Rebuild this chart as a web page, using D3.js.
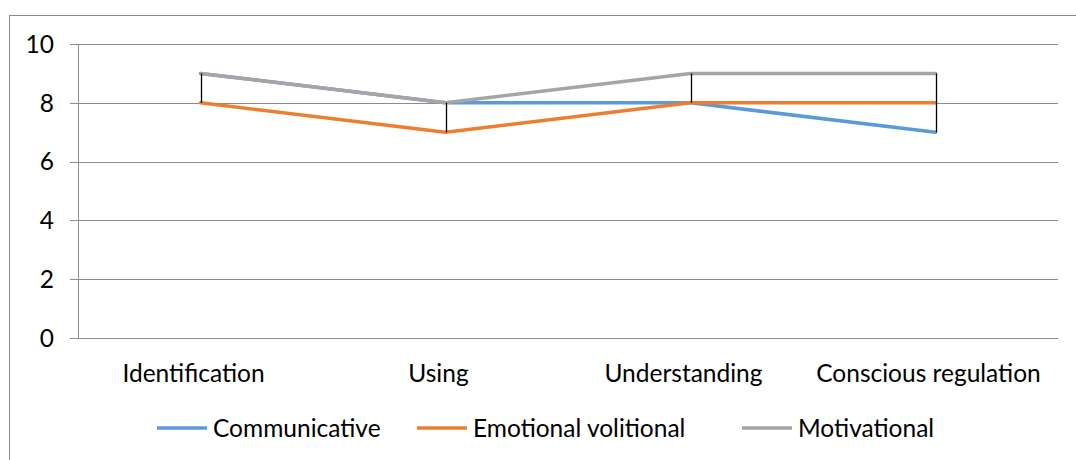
<!DOCTYPE html>
<html><head><meta charset="utf-8">
<script src="https://cdn.jsdelivr.net/npm/d3@7"></script>
<style>
html,body{margin:0;padding:0;background:#fff;}
svg{display:block;}
text{font-family:Lato,"Open Sans",sans-serif;fill:#000;}
</style></head>
<body><svg id="c" width="1076" height="460"></svg>
<script>
const categories = ["Identification","Using","Understanding","Conscious regulation"];
const communicative = [9, 8, 8, 7];
const emotionalVolitional = [8, 7, 8, 8];
const motivational = [9, 8, 9, 9];
const yTicks = [0, 2, 4, 6, 8, 10];
const seriesNames = ["Communicative","Emotional volitional","Motivational"];
const seriesColors = ["#5B9BD5","#ED7D31","#A5A5A5"];

(function(){
const series = [communicative, emotionalVolitional, motivational];
const svg = d3.select("#c");
const fs = 24.5;

// outer chart border (partially visible)
svg.append("rect").attr("x",9.5).attr("y",15.5).attr("width",1200).attr("height",600)
  .attr("fill","none").attr("stroke","#8c8c8c").attr("stroke-width",1);

const pL = 78, pR = 1058, pT = 44, pB = 338;
const x = d3.scaleBand().domain(categories).range([pL,pR]);
const y = d3.scaleLinear().domain([0,10]).range([pB,pT]);
const cx = c => x(c) + x.bandwidth()/2;

// gridlines
svg.append("g").selectAll("line").data(yTicks).join("line")
  .attr("x1",pL-8).attr("x2",pR)
  .attr("y1",d=>Math.round(y(d))+0.5).attr("y2",d=>Math.round(y(d))+0.5)
  .attr("stroke","#8c8c8c").attr("stroke-width",1);
// y axis line
svg.append("line").attr("x1",pL+0.5).attr("x2",pL+0.5)
  .attr("y1",Math.round(y(10))+0.5).attr("y2",Math.round(y(0))+0.5)
  .attr("stroke","#8c8c8c");

// y tick labels
svg.append("g").selectAll("text").data(yTicks).join("text")
  .attr("x",54).attr("y",d=>y(d)).attr("dy","0.36em")
  .attr("text-anchor","end").attr("font-size",fs).text(d=>d);

// x labels
svg.append("g").selectAll("text").data(categories).join("text")
  .attr("x",d=>cx(d)-7).attr("y",382)
  .attr("text-anchor","middle").attr("font-size",fs).text(d=>d);

// series lines
const line = d3.line().x((d,i)=>cx(categories[i])).y(d=>y(d));
series.forEach((s,k)=>{
  svg.append("path").datum(s).attr("d",line)
    .attr("fill","none").attr("stroke",seriesColors[k]).attr("stroke-width",3.5)
    .attr("stroke-linejoin","round").attr("stroke-linecap","round");
});

// high-low lines
svg.append("g").selectAll("line").data(categories).join("line")
  .attr("x1",d=>Math.round(cx(d))+0.5).attr("x2",d=>Math.round(cx(d))+0.5)
  .attr("y1",(d,i)=>y(d3.max(series,s=>s[i])))
  .attr("y2",(d,i)=>y(d3.min(series,s=>s[i])))
  .attr("stroke","#000").attr("stroke-width",1.3);

// legend
const legX = [157, 417, 742];
const legY = 428;
const lg = svg.append("g").selectAll("g").data(seriesNames).join("g")
  .attr("transform",(d,i)=>`translate(${legX[i]},${legY})`);
lg.append("line").attr("x1",0).attr("x2",50).attr("y1",0).attr("y2",0)
  .attr("stroke",(d,i)=>seriesColors[i]).attr("stroke-width",3.5);
lg.append("text").attr("x",56).attr("y",0).attr("dy","0.36em")
  .attr("font-size",fs).text(d=>d);
})();
</script></body></html>
